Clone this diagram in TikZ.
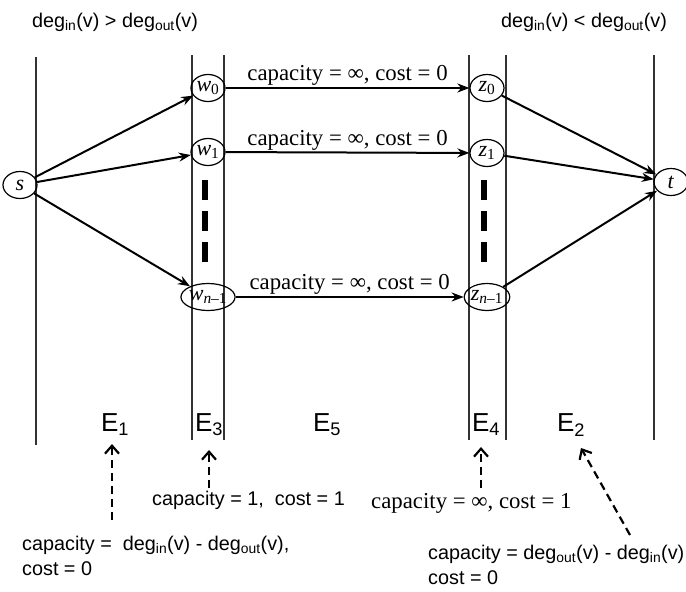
\documentclass[tikz,border=0pt]{standalone}
\usepackage{fontspec}
\setmainfont{Liberation Serif}
\setsansfont{Liberation Sans}
\usetikzlibrary{arrows.meta,shapes.geometric}
\newcommand{\dg}[1]{deg\textsubscript{#1}(v)}
\newcommand{\vx}[2]{\textit{#1}\textsubscript{#2}}

\begin{document}
\begin{tikzpicture}[x=1pt, y=-1pt,
  vtx/.style={draw, ellipse, line width=1.2pt, minimum width=34pt, minimum height=27pt, inner sep=0pt, font=\fontsize{22}{22}\selectfont},
  arr/.style={-{Stealth[length=12pt, width=9pt]}, line width=2pt},
  sep/.style={line width=1.1pt, black!80},
  gap/.style={line width=6pt, dash pattern=on 20pt off 11pt},
  note/.style={-{Straight Barb[length=8pt, width=14pt]}, line width=2.2pt, dash pattern=on 8pt off 5pt},
  lbl/.style={font=\fontsize{22.8}{22.8}\selectfont, inner sep=1.5pt},
  sf/.style={font=\sffamily\fontsize{19.8}{25}\selectfont, align=left, inner sep=0pt},
  ename/.style={font=\sffamily\fontsize{26}{26}\selectfont}]
  \useasboundingbox (0,0) rectangle (686,592);
  % column separators
  \foreach \x/\ya/\yb in {36/57/445, 192/55/440, 224/55/440, 469/55/440, 506/55/440, 654/55/440}
    \draw[sep] (\x,\ya) -- (\x,\yb);
  % vertices
  \node[vtx] (s) at (20,185) {\textit{s}};
  \node[vtx] (w0) at (208,88) {\vx{w}{0}};
  \node[vtx] (w1) at (208,152) {\vx{w}{1}};
  \node[vtx] (wn) at (208,297) {\vx{w}{\textit{n}--1}};
  \node[vtx] (z0) at (487,88) {\vx{z}{0}};
  \node[vtx] (z1) at (487,153) {\vx{z}{1}};
  \node[vtx] (zn) at (487,297) {\vx{z}{\textit{n}--1}};
  \node[vtx] (t) at (671,182) {\textit{t}};
  % omitted vertices
  \draw[gap] (205,180) -- (205,262);
  \draw[gap] (484,180) -- (484,262);
  % edges
  \foreach \v in {w0, w1, wn} \draw[arr] (s) -- (\v);
  \foreach \v in {z0, z1, zn} \draw[arr] (\v) -- (t);
  \draw[arr] (w0) -- node[lbl, above] {capacity = ∞, cost = 0} (z0);
  \draw[arr] (w1) -- node[lbl, above] {capacity = ∞, cost = 0} (z1);
  \draw[arr] (wn) -- node[lbl, above] {capacity = ∞, cost = 0} (zn);
  % headings
  \node[sf] (hl) at (115,22) {\dg{in} > \dg{out}};
  \node[sf] (hr) at (584,22) {\dg{in} < \dg{out}};
  % edge sets
  \node[ename] (e1) at (115,425) {E\textsubscript{1}};
  \node[ename] (e3) at (209,425) {E\textsubscript{3}};
  \node[ename] (e5) at (327,425) {E\textsubscript{5}};
  \node[ename] (e4) at (486,425) {E\textsubscript{4}};
  \node[ename] (e2) at (571,425) {E\textsubscript{2}};
  % notes
  \node[sf, anchor=west] (c3) at (152,500) {capacity = 1,~ cost = 1};
  \node[lbl, anchor=west, inner sep=0pt] (c4) at (371,503) {capacity = ∞, cost = 1};
  \node[sf, anchor=north west] (c1) at (22,536) {capacity =~ \dg{in} - \dg{out},\\cost = 0};
  \node[sf, anchor=north west] (c2) at (428,545) {capacity = \dg{out} - \dg{in}\\cost = 0};
  \coordinate (n1) at (112,520);
  \coordinate (n3) at (209,488);
  \coordinate (n4) at (481,488);
  \coordinate (n2) at (630,535);
  \draw[note] (n1) -- (112,444);
  \draw[note] (n3) -- (209,450);
  \draw[note] (n4) -- (481,447);
  \draw[note] (n2) -- (581,448);
\end{tikzpicture}
\end{document}
